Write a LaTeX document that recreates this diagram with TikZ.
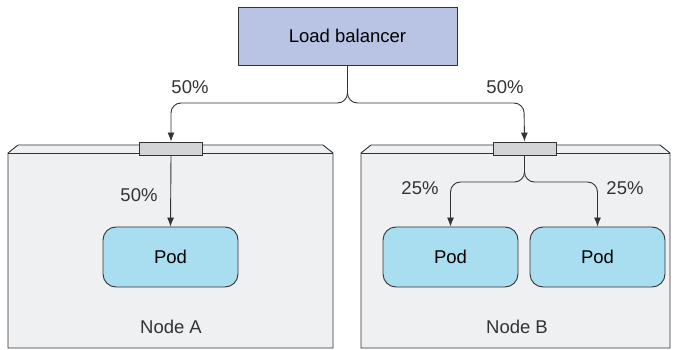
\documentclass[tikz,border=0pt]{standalone}
\usepackage{fontspec}
\setmainfont{Liberation Sans}
\usetikzlibrary{arrows.meta}
\definecolor{lbfill}{HTML}{B9C3E3}
\definecolor{boxfill}{HTML}{EFF0F2}
\definecolor{podfill}{HTML}{A9DEF0}
\definecolor{portfill}{HTML}{D3D4D6}
\definecolor{edge}{HTML}{333333}
\tikzset{
  lbbox/.style={draw=edge, fill=lbfill, line width=0.9pt, minimum width=219pt, minimum height=58pt, inner sep=0pt, font=\fontsize{18.5}{21}\selectfont},
  podbox/.style={draw=edge, fill=podfill, line width=0.9pt, rounded corners=13pt, minimum height=60pt, inner sep=0pt, font=\fontsize{18.5}{21}\selectfont},
  portbox/.style={draw=edge, fill=portfill, line width=0.9pt, minimum width=63pt, minimum height=13pt, inner sep=0pt},
  hostbox/.style={draw=edge, fill=boxfill, line width=0.9pt},
  lbl/.style={font=\fontsize{18.5}{21}\selectfont, text=edge, inner sep=0pt},
  conn/.style={draw=edge, line width=0.9pt, rounded corners=10pt, -{Latex[length=9pt,width=7pt]}},
}
\begin{document}
\begin{tikzpicture}[x=1pt,y=-1pt]
\useasboundingbox (0,0) rectangle (678,350);
\fill[white] (0,0) rectangle (678,350);
% host boxes
\path[hostbox] (8,348) -- (8,153) -- (18,145) -- (323,145) -- (333,153) -- (333,348) -- cycle;
\draw[edge, line width=0.9pt] (8,153) -- (333,153);
\path[hostbox] (361,348) -- (361,153) -- (371,145) -- (660,145) -- (670,153) -- (670,348) -- cycle;
\draw[edge, line width=0.9pt] (361,153) -- (670,153);
% nodes
\node[lbbox] (lb) at (347.5,36) {Load balancer};
\node[portbox] (portA) at (171,148.5) {};
\node[portbox] (portB) at (524.5,148.5) {};
\node[podbox, minimum width=135pt] (podA) at (170.5,257) {Pod};
\node[podbox, minimum width=135pt] (podB1) at (450.5,257) {Pod};
\node[podbox, minimum width=135pt] (podB2) at (597.5,257) {Pod};
\node[lbl] (nA) at (171,327) {Node A};
\node[lbl] (nB) at (517,327) {Node B};
% labels
\node[lbl] (l1) at (190,87) {50\%};
\node[lbl] (l2) at (505,87) {50\%};
\node[lbl] (l3) at (139,195) {50\%};
\node[lbl] (l4) at (420,188) {25\%};
\node[lbl] (l5) at (625,188) {25\%};
% connectors
\draw[conn] (lb.south) |- (171,103) -- (portA.north);
\draw[conn] (lb.south) |- (524,103) -- (portB.north);
\draw[conn, rounded corners=0pt] (portA.south) -- (podA.north);
\draw[conn] (portB.south) |- (podB1.north |- 0,182) -- (podB1.north);
\draw[conn] (portB.south) |- (podB2.north |- 0,182) -- (podB2.north);
\end{tikzpicture}
\end{document}
